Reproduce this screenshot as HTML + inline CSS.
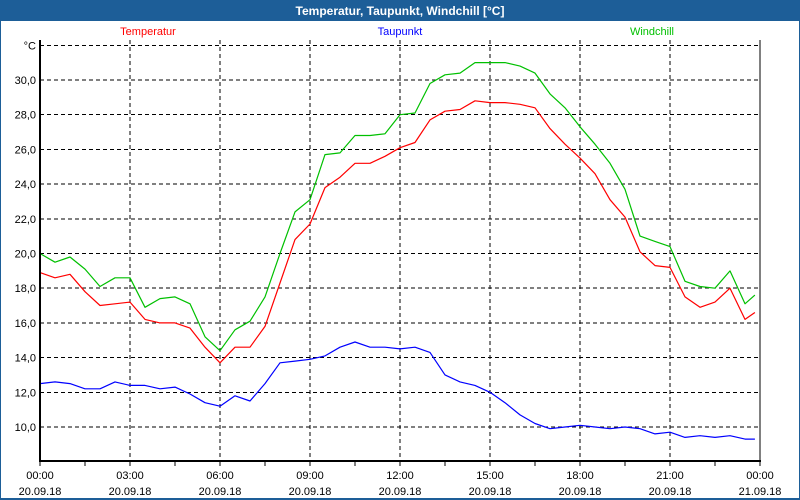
<!DOCTYPE html>
<html><head><meta charset="utf-8"><style>
body{margin:0;background:#fff}
svg{display:block;font-family:"Liberation Sans",sans-serif}
</style></head><body>
<svg id="chart" width="800" height="500" viewBox="0 0 800 500">
<rect x="0" y="0" width="800" height="500" fill="#1d5e98"/>
<rect x="1" y="21" width="798" height="477" fill="#ffffff"/>
<text x="400" y="15" text-anchor="middle" fill="#fff" font-weight="bold" font-size="12">Temperatur, Taupunkt, Windchill [°C]</text>
<text x="148" y="35" text-anchor="middle" fill="#ff0000" font-size="11">Temperatur</text>
<text x="400" y="35" text-anchor="middle" fill="#0000ff" font-size="11">Taupunkt</text>
<text x="652" y="35" text-anchor="middle" fill="#00c000" font-size="11">Windchill</text>
<g id="grid"></g>
<g id="series"></g>
<g id="axes"></g>
</svg>
<script>
const hours=[0,0.5,1,1.5,2,2.5,3,3.5,4,4.5,5,5.5,6,6.5,7,7.5,8,8.5,9,9.5,10,10.5,11,11.5,12,12.5,13,13.5,14,14.5,15,15.5,16,16.5,17,17.5,18,18.5,19,19.5,20,20.5,21,21.5,22,22.5,23,23.5,23.83];
const temperatur=[18.9,18.6,18.8,17.8,17.0,17.1,17.2,16.2,16.0,16.0,15.7,14.6,13.7,14.6,14.6,15.8,18.3,20.8,21.7,23.8,24.4,25.2,25.2,25.6,26.1,26.4,27.7,28.2,28.3,28.8,28.7,28.7,28.6,28.4,27.2,26.3,25.5,24.6,23.1,22.1,20.1,19.3,19.2,17.5,16.9,17.2,18.0,16.2,16.6];
const windchill=[20.0,19.5,19.8,19.1,18.1,18.6,18.6,16.9,17.4,17.5,17.1,15.2,14.4,15.6,16.1,17.5,20.0,22.4,23.1,25.7,25.8,26.8,26.8,26.9,28.0,28.1,29.8,30.3,30.4,31.0,31.0,31.0,30.8,30.4,29.2,28.4,27.3,26.3,25.2,23.7,21.0,20.7,20.4,18.4,18.1,18.0,19.0,17.1,17.6];
const taupunkt=[12.5,12.6,12.5,12.2,12.2,12.6,12.4,12.4,12.2,12.3,11.9,11.4,11.2,11.8,11.5,12.5,13.7,13.8,13.9,14.1,14.6,14.9,14.6,14.6,14.5,14.6,14.3,13.0,12.6,12.4,12.0,11.4,10.7,10.2,9.9,10.0,10.1,10.0,9.9,10.0,9.9,9.6,9.7,9.4,9.5,9.4,9.5,9.3,9.3];
const yTicks=[10,12,14,16,18,20,22,24,26,28,30];
const yTickLabels=["10,0","12,0","14,0","16,0","18,0","20,0","22,0","24,0","26,0","28,0","30,0"];
const xTicks=[0,3,6,9,12,15,18,21,24];
const xTimeLabels=["00:00","03:00","06:00","09:00","12:00","15:00","18:00","21:00","00:00"];
const xDateLabels=["20.09.18","20.09.18","20.09.18","20.09.18","20.09.18","20.09.18","20.09.18","20.09.18","21.09.18"];

const L=40,R=760,T=40,B=461;
const x=h=>L+h*(R-L)/24;
const y=v=>427-(v-10)*17.35;
const NS="http://www.w3.org/2000/svg";
function mk(tag,attrs,parent){const e=document.createElementNS(NS,tag);for(const k in attrs)e.setAttribute(k,attrs[k]);parent.appendChild(e);return e;}
const grid=document.getElementById('grid'),axes=document.getElementById('axes'),series=document.getElementById('series');
// horizontal grid
[...yTicks,32].forEach((v,i)=>{
  const l=mk('line',{x1:L,x2:R,y1:y(v),y2:y(v),stroke:'#000','stroke-dasharray':'4,3','stroke-width':1,'shape-rendering':'crispEdges'},grid);
  
  
});
xTicks.forEach((h,i)=>{
  if(i>0&&i<xTicks.length-1){
    const l=mk('line',{x1:x(h),x2:x(h),y1:T,y2:B,stroke:'#000','stroke-dasharray':'4,3','stroke-width':1,'shape-rendering':'crispEdges'},grid);
    
    
  }
});
function drawLine(vals,color,name){
  const d=vals.map((v,i)=>(i?'L':'M')+x(hours[i]).toFixed(1)+','+y(v).toFixed(1)).join(' ');
  const p=mk('path',{d:d,fill:'none',stroke:color,'stroke-width':1.2,'stroke-linejoin':'round'},series);
  
  
}
drawLine(taupunkt,'#0000ff','line-taupunkt');
drawLine(temperatur,'#ff0000','line-temperatur');
drawLine(windchill,'#00c000','line-windchill');
// axes
const ya=mk('line',{x1:L,x2:L,y1:T,y2:B+1,stroke:'#000','stroke-width':2},axes);


const xa=mk('line',{x1:L,x2:R+1,y1:B,y2:B,stroke:'#000','stroke-width':2},axes);


const ra=mk('line',{x1:R,x2:R,y1:T,y2:B,stroke:'#000','stroke-width':1},axes);


const unit=mk('text',{x:36,y:y(32)+4,'text-anchor':'end','font-size':11,fill:'#000'},axes);
unit.textContent='°C';


yTicks.forEach((v,i)=>{
  const t=mk('text',{x:36,y:y(v)+4,'text-anchor':'end','font-size':11,fill:'#000'},axes);
  t.textContent=yTickLabels[i];
  
  
});
for(let h=0;h<=24;h+=1.5){
  const tk=mk('line',{x1:x(h),x2:x(h),y1:B,y2:B+5,stroke:'#000','stroke-width':1,'shape-rendering':'crispEdges'},axes);
  
  
}
xTicks.forEach((h,i)=>{
  const t1=mk('text',{x:x(h),y:479,'text-anchor':'middle','font-size':11,fill:'#000'},axes);
  t1.textContent=xTimeLabels[i];
  
  
  const t2=mk('text',{x:x(h),y:495,'text-anchor':'middle','font-size':11,fill:'#000'},axes);
  t2.textContent=xDateLabels[i];
  
  
});
</script>
</body></html>
